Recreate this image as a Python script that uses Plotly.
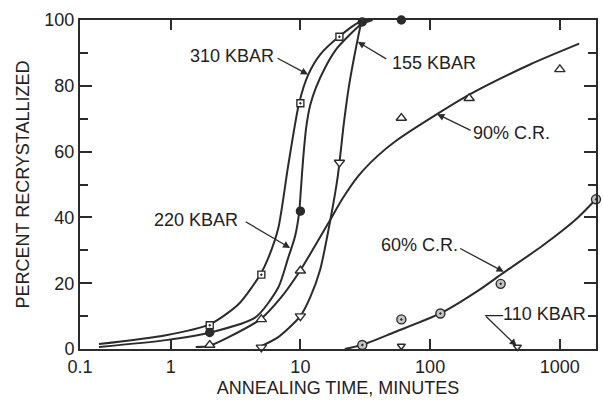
import math
import plotly.graph_objects as go

# ---------------- data ----------------
# measured points
t310 = [2, 5, 10, 20]
y310 = [7.2, 22.6, 74.7, 94.9]
t220 = [2, 10, 30, 60]
y220 = [5.0, 41.9, 99.4, 100.0]
t155 = [5, 10, 20, 30]
y155 = [0.5, 10.0, 56.7, 100.5]
t90 = [2, 5, 10, 60, 200, 1000]
y90 = [1.2, 9.0, 23.8, 70.2, 76.2, 85.0]
t60 = [30, 60, 120, 350, 1900]
y60 = [1.2, 9.0, 10.8, 19.8, 45.5]
t110 = [60, 470]
y110 = [0.9, 0.6]

# fitted curves
c310_t = [0.28, 0.92, 2.0, 3.33, 4.9, 5.66, 6.75, 8.05, 9.77, 11.5, 14.2, 19.8, 28.6, 34]
c310_y = [1.5, 4.2, 7.5, 13.6, 22.6, 27.7, 36.7, 55.7, 74.7, 83.4, 89.5, 94.9, 99.4, 100]
c220_t = [0.28, 0.92, 2.07, 4.5, 6.75, 8.05, 9.1, 9.77, 10.1, 10.5, 11.1, 11.9, 13.2, 15.5, 18.8, 24.0, 29.7, 36]
c220_y = [0.6, 2.7, 5.1, 9.6, 18.7, 27.7, 34.3, 41.3, 48.8, 57.8, 67.5, 74.1, 79.5, 85.5, 91.0, 95.5, 98.8, 100]
c155_t = [4.83, 6.75, 9.94, 11.9, 14.2, 16.9, 19.4, 21.6, 23.6, 26.2, 29.2, 30.2]
c155_y = [0.6, 3.6, 9.9, 15.7, 24.1, 38.6, 52.4, 68.4, 79.5, 89.5, 98.5, 100]
c90_t = [1.56, 1.97, 2.8, 4.9, 7.1, 9.94, 16.6, 21.2, 27.7, 39.4, 56, 113, 202, 583, 1410]
c90_y = [0.6, 0.9, 3.6, 9.0, 15.7, 23.8, 38.6, 45.8, 52.4, 58.7, 63.6, 71.4, 77.4, 86.4, 92.8]
c60_t = [22, 29.7, 53, 120, 230, 369, 748, 1340, 1900]
c60_y = [0.0, 1.2, 5.1, 10.8, 17.5, 23.2, 31.6, 39.5, 45.5]

x_tickvals = [0.2, 1, 10, 100, 1000]
x_ticktext = ["0.1", "1", "10", "100", "1000"]
y_tickvals = [0, 20, 40, 60, 80, 100]

INK = "#2b2b2b"
FONT = "Liberation Sans"

fig = go.Figure()

def curve(t, y):
    fig.add_trace(go.Scatter(x=t, y=y, mode="lines",
                             line=dict(color=INK, width=2, shape="spline", smoothing=0.7),
                             hoverinfo="skip", showlegend=False))

for ct, cy in [(c310_t, c310_y), (c220_t, c220_y), (c155_t, c155_y), (c90_t, c90_y), (c60_t, c60_y)]:
    curve(ct, cy)

def points(t, y, symbol, size, fill, lw=1.4):
    fig.add_trace(go.Scatter(x=t, y=y, mode="markers", cliponaxis=False,
                             marker=dict(symbol=symbol, size=size, color=fill,
                                         line=dict(color=INK, width=lw)),
                             showlegend=False))

points(t310, y310, "square-dot", 7, "white")
points(t90, y90, "triangle-up", 9, "white")
points(t155, y155, "triangle-down", 9, "white")
points(t110, y110, "triangle-down", 7, "white")
points(t60, y60, "circle-dot", 9, "#c4c4c4")
points(t220, y220, "circle", 8, INK)

# ---------------- labels with leader arrows ----------------
def lx(px):
    return (px - 171.7) / 130.6

def ly(py):
    return (352 - py) / 3.32

labels = [
    ("310 KBAR", 233, 56, "center"),
    ("155 KBAR", 437, 63, "center"),
    ("90% C.R.", 515, 134, "center"),
    ("220 KBAR", 197, 222, "center"),
    ("60% C.R.", 422, 247, "center"),
    ("—110 KBAR", 486, 317, "left"),
]
for txt, px, py, anc in labels:
    fig.add_annotation(x=lx(px), y=ly(py), text=txt, showarrow=False, xanchor=anc,
                       yanchor="middle", font=dict(family=FONT, size=18, color="#222"))

arrows = [  # head (px, py), tail offset (ax, ay)
    (310, 75, -32, -17),
    (360, 42, 30, 18),
    (440, 115, 35, 17),
    (292, 250, -46, -27),
    (507, 274, -45, -24),
    (520, 349, -32, -31),
]
for hx, hy, ax, ay in arrows:
    fig.add_annotation(x=lx(hx), y=ly(hy), ax=ax, ay=ay, text="", showarrow=True,
                       arrowhead=2, arrowsize=1.1, arrowwidth=1.3, arrowcolor=INK,
                       standoff=0, startstandoff=0)

fig.update_layout(
    width=603, height=400,
    margin=dict(l=80, r=5, t=20, b=48),
    paper_bgcolor="white", plot_bgcolor="white",
    font=dict(family=FONT, size=18, color="#222"),
    xaxis=dict(type="log", range=[math.log10(0.2), math.log10(1900)],
               tickvals=x_tickvals, ticktext=x_ticktext,
               ticks="inside", ticklen=10, tickwidth=1.6, tickcolor=INK,
               showline=True, linewidth=2, linecolor=INK, mirror="ticks",
               showgrid=False, zeroline=False,
               tickfont=dict(family=FONT, size=18, color="#222"),
               title=dict(text="ANNEALING TIME, MINUTES", standoff=6,
                          font=dict(family=FONT, size=18, color="#222"))),
    yaxis=dict(range=[0, 100], tickvals=y_tickvals,
               ticks="inside", ticklen=12, tickwidth=1.6, tickcolor=INK,
               minor=dict(dtick=10, ticks="inside", ticklen=8, tickwidth=1.6, tickcolor=INK),
               showline=True, linewidth=2, linecolor=INK, mirror="ticks",
               showgrid=False, zeroline=False,
               tickfont=dict(family=FONT, size=18, color="#222"),
               title=dict(text="PERCENT RECRYSTALLIZED", standoff=10,
                          font=dict(family=FONT, size=18, color="#222"))),
)

fig.write_html("out.html")
